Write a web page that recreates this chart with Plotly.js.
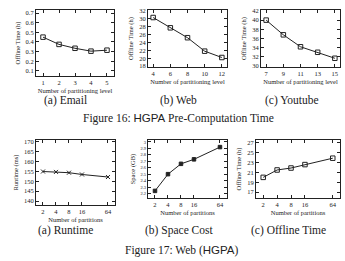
<!DOCTYPE html>
<html><head><meta charset="utf-8">
<script src="https://cdn.plot.ly/plotly-3.0.1.min.js"></script>
<style>html,body{margin:0;padding:0;background:#fff}#c{width:345px;height:261px}</style>
</head><body><div id="c"></div>
<script>
// Figure 16 data
const emailLevels = [1, 2, 3, 4, 5];
const emailTime = [0.45, 0.375, 0.335, 0.305, 0.315];
const webLevels = [4, 6, 8, 10, 12];
const webTime = [30.3, 27.7, 25.2, 21.8, 20.2];
const ytLevels = [7, 9, 11, 13, 15];
const ytTime = [40.0, 36.8, 34.2, 33.0, 31.7];
// Figure 17 data
const partitions = [2, 4, 8, 16, 64];
const partitionLabels = ['2', '4', '8', '16', '64'];
const runtimeMs = [155.0, 154.8, 154.4, 153.5, 152.2];
const spaceGB = [2.24, 2.5, 2.66, 2.73, 2.92];
const offlineH = [20.0, 21.5, 21.9, 22.6, 23.9];

const serif = 'Liberation Serif';
const lineCol = '#222';
const tickFont = {family: serif, size: 6.5, color: '#222'};
const titleFont = {family: serif, size: 6.5, color: '#222'};

function trace(x, y, xa, ya, sym, size) {
  return {x: x, y: y, xaxis: xa, yaxis: ya, mode: 'lines+markers', type: 'scatter',
    line: {color: lineCol, width: 1},
    marker: {symbol: sym, size: size, color: lineCol, line: {color: lineCol, width: 1}},
    hoverinfo: 'skip', showlegend: false};
}

const data = [
  trace(emailLevels, emailTime, 'x', 'y', 'square-open', 4.5),
  trace(webLevels, webTime, 'x2', 'y2', 'square-open', 4.5),
  trace(ytLevels, ytTime, 'x3', 'y3', 'square-open', 4.5),
  trace(partitions, runtimeMs, 'x4', 'y4', 'x-thin-open', 4),
  trace(partitions, spaceGB, 'x5', 'y5', 'square', 3.5),
  trace(partitions, offlineH, 'x6', 'y6', 'square-open', 4.5)
];

function xa(dom, range, title, extra) {
  return Object.assign({domain: dom, range: range, showline: true, mirror: 'allticks', linecolor: '#222', linewidth: 1,
    ticks: 'inside', ticklen: 3, tickcolor: '#222', showgrid: false, zeroline: false,
    tickfont: tickFont, title: {text: title, font: titleFont, standoff: 3}, fixedrange: true}, extra || {});
}
function ya(dom, range, title, extra) {
  return Object.assign({domain: dom, range: range, showline: true, mirror: 'allticks', linecolor: '#222', linewidth: 1,
    ticks: 'inside', ticklen: 3, tickcolor: '#222', showgrid: false, zeroline: false,
    tickfont: tickFont, title: {text: title, font: titleFont, standoff: 4}, fixedrange: true}, extra || {});
}
const W = 345, H = 261;
const dx = (a, b) => [a / W, b / W];
const dy = (top, bot) => [1 - bot / H, 1 - top / H];
const logX = {type: 'log', tickmode: 'array', tickvals: partitions, ticktext: partitionLabels};

const layout = {
  width: W, height: H, margin: {l: 0, r: 0, t: 0, b: 0},
  paper_bgcolor: '#fff', plot_bgcolor: '#fff', showlegend: false,
  xaxis: xa(dx(36, 114), [0.56, 5.44], 'Number of partitioning level', {anchor: 'y', dtick: 1}),
  yaxis: ya(dy(10, 76), [0.048, 0.731], 'Offline Time (h)', {anchor: 'x', dtick: 0.1, tick0: 0.1}),
  xaxis2: xa(dx(148, 227), [3.4, 12.6], 'Number of partitioning level', {anchor: 'y2', dtick: 2}),
  yaxis2: ya(dy(10, 67), [17.8, 32.2], 'Offline Time (h)', {anchor: 'x2', dtick: 2}),
  xaxis3: xa(dx(261, 340), [6.4, 15.6], 'Number of partitioning level', {anchor: 'y3', dtick: 2, tick0: 7}),
  yaxis3: ya(dy(10, 67), [29.8, 42.2], 'Offline Time (h)', {anchor: 'x3', dtick: 2}),
  xaxis4: xa(dx(36, 115), [0.139, 1.969], 'Number of partitions', Object.assign({anchor: 'y4'}, logX)),
  yaxis4: ya(dy(140, 205), [138, 171], 'Runtime (ms)', {anchor: 'x4', dtick: 5}),
  xaxis5: xa(dx(148, 227), [0.139, 1.969], 'Number of partitions', Object.assign({anchor: 'y5'}, logX)),
  yaxis5: ya(dy(140, 198), [2.13, 3.03], 'Space (GB)', {anchor: 'x5', dtick: 0.1, tick0: 2.2, tickfont: {family: serif, size: 4.5, color: '#222'}}),
  xaxis6: xa(dx(256, 340), [0.145, 1.963], 'Number of partitions', Object.assign({anchor: 'y6'}, logX)),
  yaxis6: ya(dy(140, 198), [15.8, 27.6], 'Offline Time (h)', {anchor: 'x6', dtick: 2, tick0: 17}),
  annotations: [
    {text: '(a) Email', x: 65, y: 100},
    {text: '(b) Web', x: 178, y: 100},
    {text: '(c) Youtube', x: 292, y: 100},
    {text: 'Figure 16: <span style="font-family:Liberation Sans">HGPA</span> Pre-Computation Time', x: 178, y: 118},
    {text: '(a) Runtime', x: 65, y: 230},
    {text: '(b) Space Cost', x: 179, y: 230},
    {text: '(c) Offline Time', x: 288, y: 230},
    {text: 'Figure 17: Web (<span style="font-family:Liberation Sans">HGPA</span>)', x: 182, y: 250}
  ].map(a => ({text: a.text, x: a.x / W, y: 1 - a.y / H, xref: 'paper', yref: 'paper',
    xanchor: 'center', yanchor: 'middle', showarrow: false,
    font: {family: serif, size: 11.5, color: '#222'}}))
};

Plotly.newPlot('c', data, layout, {staticPlot: true, displayModeBar: false});
</script></body></html>
